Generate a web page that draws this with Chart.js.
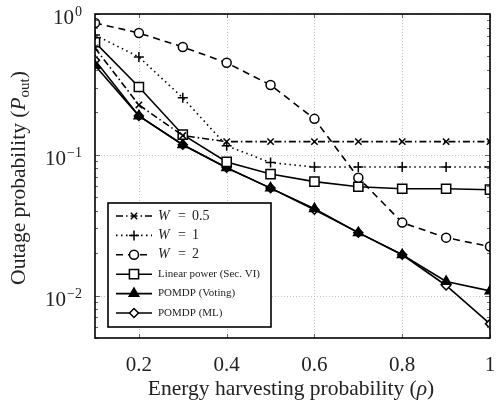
<!DOCTYPE html>
<html>
<head>
<meta charset="utf-8">
<script src="https://cdn.jsdelivr.net/npm/chart.js@4.4.1/dist/chart.umd.min.js"></script>
<style>
  html, body { margin: 0; padding: 0; background: #fff; }
  canvas { display: block; }
</style>
</head>
<body>
<canvas id="graph" width="498" height="401"></canvas>
<script>
// ===== DONNÉES =====
var rho      = [0.1, 0.2, 0.3, 0.4, 0.5, 0.6, 0.7, 0.8, 0.9, 1.0];
var w05      = [0.574, 0.226, 0.137, 0.124, 0.124, 0.124, 0.124, 0.124, 0.124, 0.124];
var w1       = [0.71, 0.495, 0.254, 0.116, 0.088, 0.082, 0.082, 0.082, 0.082, 0.082];
var w2       = [0.863, 0.733, 0.583, 0.45, 0.313, 0.18, 0.0687, 0.033, 0.0258, 0.0223];
var lineaire = [0.63, 0.303, 0.139, 0.089, 0.073, 0.0645, 0.0593, 0.0574, 0.0574, 0.0565];
var vote     = [0.43, 0.189, 0.118, 0.081, 0.058, 0.0414, 0.028, 0.0195, 0.0126, 0.0108];
var ml       = [0.47, 0.189, 0.118, 0.081, 0.058, 0.0407, 0.028, 0.0195, 0.0118, 0.0063];

var xTicks  = [0.2, 0.4, 0.6, 0.8, 1];
var yMajors = [1, 0.1, 0.01];
var legendes = ['W = 0.5', 'W = 1', 'W = 2', 'Linear power (Sec. VI)', 'POMDP (Voting)', 'POMDP (ML)'];

var SERIF = '"Liberation Serif", "DejaVu Serif", serif';

// On fabrique les points {x, y} à partir des tableaux
function points(vals) {
    return rho.map(function (r, i) { return { x: r, y: vals[i] }; });
}

function serie(label, vals, dash, style, rayon, fond) {
    return {
        label: label,
        data: points(vals),
        borderColor: '#000',
        borderWidth: 1.6,
        borderDash: dash,
        pointStyle: style,
        pointRadius: rayon,
        pointBorderWidth: 1.5,
        pointBorderColor: '#000',
        pointBackgroundColor: fond,
        tension: 0
    };
}

// ---- graduations mineures de l'axe log ----
var yTicksAll = [];
[-3, -2, -1].forEach(function (e) {
    for (var k = 1; k <= 9; k++) {
        var v = k * Math.pow(10, e);
        if (v >= 0.005 - 1e-9) yTicksAll.push(v);
    }
});
yTicksAll.push(1);

function trait(ctx, x1, y1, x2, y2) {
    ctx.beginPath(); ctx.moveTo(x1, y1); ctx.lineTo(x2, y2); ctx.stroke();
}

// ===== PLUGIN : grille, cadre, textes des axes, légende =====
var habillage = {
    id: 'habillage',
    beforeDatasetsDraw: function (chart) {
        var ctx = chart.ctx, a = chart.chartArea, x = chart.scales.x, y = chart.scales.y;
        ctx.save();
        ctx.strokeStyle = '#c4c4c4';
        ctx.lineWidth = 1;
        ctx.setLineDash([1, 2]);
        xTicks.forEach(function (v) {
            var px = Math.round(x.getPixelForValue(v)) + 0.5;
            trait(ctx, px, a.top, px, a.bottom);
        });
        yMajors.forEach(function (v) {
            var py = Math.round(y.getPixelForValue(v)) + 0.5;
            trait(ctx, a.left, py, a.right, py);
        });
        ctx.restore();
    },
    afterDatasetsDraw: function (chart) {
        var ctx = chart.ctx, a = chart.chartArea, x = chart.scales.x, y = chart.scales.y;
        ctx.save();

        // petites graduations à l'intérieur
        ctx.strokeStyle = '#666';
        ctx.lineWidth = 1;
        yTicksAll.forEach(function (v) {
            var py = Math.round(y.getPixelForValue(v)) + 0.5;
            var maj = Math.abs(Math.log10(v) - Math.round(Math.log10(v))) < 1e-6;
            var l = maj ? 5 : 3;
            trait(ctx, a.left, py, a.left + l, py);
            trait(ctx, a.right - l, py, a.right, py);
        });
        xTicks.forEach(function (v) {
            var px = Math.round(x.getPixelForValue(v)) + 0.5;
            trait(ctx, px, a.bottom, px, a.bottom - 4);
            trait(ctx, px, a.top, px, a.top + 4);
        });

        // cadre
        ctx.strokeStyle = '#000';
        ctx.lineWidth = 1.6;
        ctx.strokeRect(a.left, a.top, a.right - a.left, a.bottom - a.top);

        // étiquettes 10^n
        ctx.fillStyle = '#222';
        ctx.textAlign = 'left';
        ctx.textBaseline = 'alphabetic';
        yMajors.forEach(function (v) {
            var py = y.getPixelForValue(v);
            var e = Math.round(Math.log10(v));
            var ex = e === 0 ? '0' : '\u2212' + Math.abs(e);
            ctx.font = '14px ' + SERIF;
            var ew = ctx.measureText(ex).width;
            var droite = a.left - 13;
            ctx.fillText(ex, droite - ew, py + 2);
            ctx.font = '21px ' + SERIF;
            var bw = ctx.measureText('10').width;
            ctx.fillText('10', droite - ew - bw - 1, py + 10);
        });

        // titre de l'axe x
        var morceauxX = [['Energy harvesting probability (', ''], ['\u03c1', 'italic '], [')', '']];
        dessinerLigne(ctx, morceauxX, 291, 395, 21.5);

        // titre de l'axe y (tourné)
        ctx.save();
        ctx.translate(25, 178);
        ctx.rotate(-Math.PI / 2);
        var morceauxY = [['Outage probability (', '', 0, 21.5], ['P', 'italic ', 0, 21.5], ['out', '', 4, 15], [')', '', 0, 21.5]];
        dessinerLigne(ctx, morceauxY, 0, 0, 21.5);
        ctx.restore();

        // légende
        var bx = a.left + 13, by = a.bottom - 135, bw2 = 163, bh = 124;
        ctx.fillStyle = '#fff';
        ctx.fillRect(bx, by, bw2, bh);
        ctx.strokeStyle = '#000';
        ctx.lineWidth = 1.6;
        ctx.strokeRect(bx, by, bw2, bh);

        chart.data.datasets.forEach(function (ds, i) {
            var ry = by + 13 + i * 19.4;
            var x1 = bx + 8, x2 = bx + 44, xm = (x1 + x2) / 2;
            ctx.save();
            ctx.strokeStyle = '#000';
            ctx.lineWidth = ds.borderWidth;
            ctx.setLineDash(ds.borderDash || []);
            trait(ctx, x1, ry, x2, ry);
            ctx.setLineDash([]);
            ctx.fillStyle = ds.pointBackgroundColor;
            ctx.lineWidth = ds.pointBorderWidth;
            Chart.helpers.drawPoint(ctx, { pointStyle: ds.pointStyle, radius: ds.pointRadius, rotation: 0, borderWidth: ds.pointBorderWidth }, xm, ry);
            ctx.restore();

            ctx.fillStyle = '#222';
            ctx.textAlign = 'left';
            ctx.textBaseline = 'middle';
            var tx = bx + 50;
            if (ds.label.charAt(0) === 'W') {
                var val = ds.label.split('= ')[1];
                ctx.font = 'italic 14px ' + SERIF;
                ctx.fillText('W', tx, ry);
                ctx.font = '14px ' + SERIF;
                ctx.fillText('=', tx + 20, ry);
                ctx.fillText(val, tx + 34, ry);
            } else {
                ctx.font = '11px ' + SERIF;
                ctx.fillText(ds.label, tx, ry);
            }
        });

        ctx.restore();
    }
};

// écrit une suite de morceaux (texte, style, décalage, taille) centrés sur cx
function dessinerLigne(ctx, morceaux, cx, cy, taille) {
    ctx.textAlign = 'left';
    ctx.textBaseline = 'alphabetic';
    ctx.fillStyle = '#222';
    var total = 0;
    morceaux.forEach(function (m) {
        ctx.font = m[1] + (m[3] || taille) + 'px ' + SERIF;
        total += ctx.measureText(m[0]).width;
    });
    var px = cx - total / 2;
    morceaux.forEach(function (m) {
        ctx.font = m[1] + (m[3] || taille) + 'px ' + SERIF;
        ctx.fillText(m[0], px, cy + (m[2] || 0));
        px += ctx.measureText(m[0]).width;
    });
}

// ===== GRAPHIQUE =====
new Chart(document.getElementById('graph'), {
    type: 'line',
    data: {
        datasets: [
            serie(legendes[0], w05, [7, 3, 1.5, 3], 'crossRot', 4.5, '#000'),
            serie(legendes[1], w1, [1.5, 3.5], 'cross', 5, '#000'),
            serie(legendes[2], w2, [7, 5], 'circle', 4.5, '#fff'),
            serie(legendes[3], lineaire, [], 'rect', 6.5, '#fff'),
            serie(legendes[4], vote, [], 'triangle', 5.5, '#000'),
            serie(legendes[5], ml, [], 'rectRot', 4.5, '#fff')
        ]
    },
    options: {
        responsive: false,
        animation: false,
        layout: { padding: { top: 14, right: 1, left: 0, bottom: 0 } },
        plugins: { legend: { display: false }, tooltip: { enabled: false } },
        scales: {
            x: {
                type: 'linear',
                min: 0.1,
                max: 1,
                afterBuildTicks: function (s) {
                    s.ticks = xTicks.map(function (v) { return { value: v }; });
                },
                afterFit: function (s) {
                    s.height = 63;
                    s.paddingLeft = 0;
                    s.paddingRight = 0;
                },
                ticks: {
                    autoSkip: false,
                    maxRotation: 0,
                    padding: 7,
                    color: '#222',
                    font: { family: SERIF, size: 21 },
                    callback: function (v) { return v === 1 ? '1' : Number(v).toFixed(1); }
                },
                grid: { display: false },
                border: { display: false }
            },
            y: {
                type: 'logarithmic',
                min: 0.005,
                max: 1,
                afterFit: function (s) { s.width = 95; },
                ticks: { display: false },
                grid: { display: false },
                border: { display: false }
            }
        }
    },
    plugins: [habillage]
});
</script>
</body>
</html>
